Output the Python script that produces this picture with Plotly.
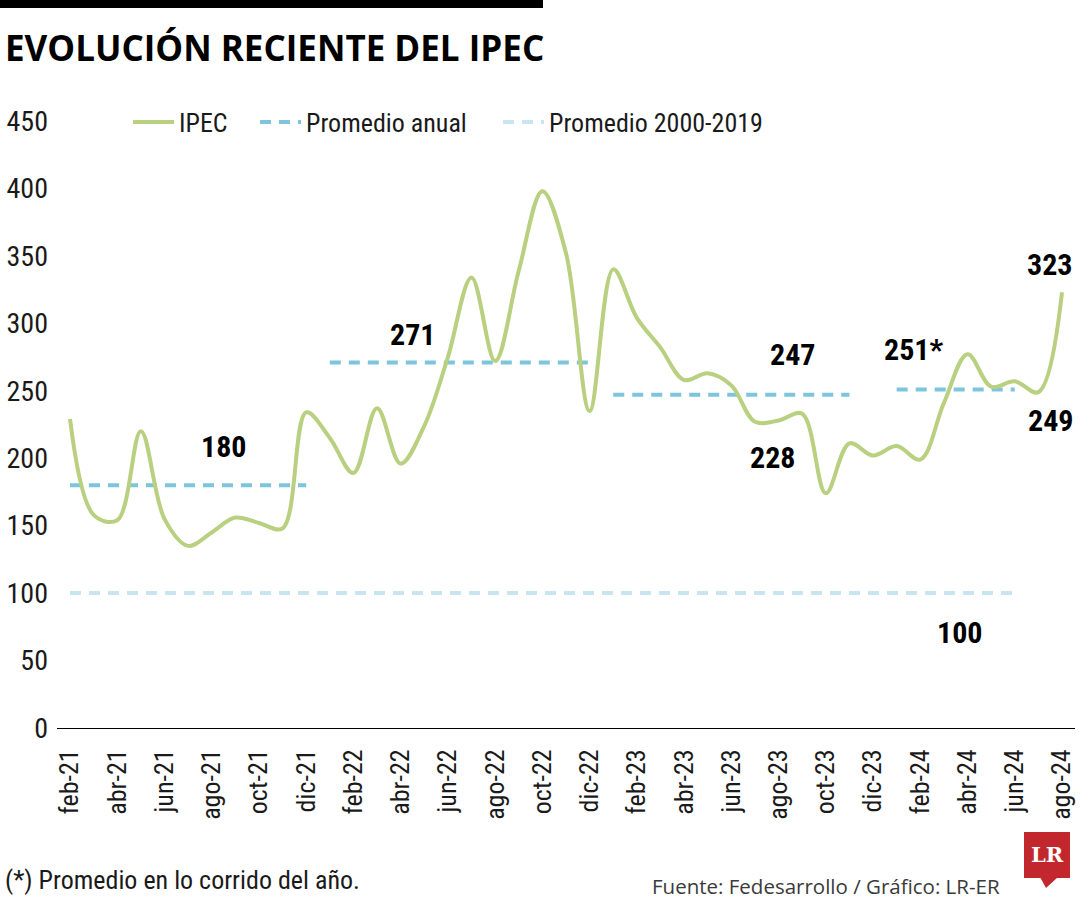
import plotly.graph_objects as go

# ---------------- data ----------------
months = ["feb-21", "mar-21", "abr-21", "may-21", "jun-21", "jul-21", "ago-21", "sep-21", "oct-21", "nov-21", "dic-21",
          "ene-22", "feb-22", "mar-22", "abr-22", "may-22", "jun-22", "jul-22", "ago-22", "sep-22", "oct-22", "nov-22", "dic-22",
          "ene-23", "feb-23", "mar-23", "abr-23", "may-23", "jun-23", "jul-23", "ago-23", "sep-23", "oct-23", "nov-23", "dic-23",
          "ene-24", "feb-24", "mar-24", "abr-24", "may-24", "jun-24", "jul-24", "ago-24"]
ipec = [229, 158, 154, 220, 155, 135, 145, 156, 152, 148, 234,
        215, 189, 237, 196, 224, 275, 334, 272, 339, 398, 352, 235,
        340, 304, 282, 258, 263, 254, 227, 228, 233, 174, 211, 202,
        209, 199, 241, 277, 253, 257, 249, 323]

avg_values = [180, 271, 247, 251]
avg_labels = ["180", "271", "247", "251*"]
avg_start = ["feb-21", "ene-22", "ene-23", "ene-24"]
avg_end = ["dic-21", "dic-22", "nov-23", "jun-24"]

hist_value = 100
hist_start, hist_end = "feb-21", "jun-24"

point_labels = [("ago-23", "228"), ("ago-24", "323"), ("jul-24", "249")]

# ---------------- styling ----------------
W, H = 1080, 900
ML, MR, MT, MB = 57, 5, 121, 172
PW, PH = W - ML - MR, H - MT - MB

NARROW = "Roboto Condensed, Liberation Sans Narrow, sans-serif"
GREEN = "#b8d07f"
BLUE = "#7cc5dd"
LIGHT = "#c8e6f1"
TXT = "#1a1a1a"


def px2x(px):
    return (px - ML) / PW


def px2y(py):
    return (H - MB - py) / PH


idx = {m: i for i, m in enumerate(months)}
xs = list(range(len(months)))

fig = go.Figure()

# Historical average 2000-2019
fig.add_trace(go.Scatter(
    x=[idx[hist_start], idx[hist_end]], y=[hist_value, hist_value],
    mode="lines", name="Promedio 2000-2019",
    line=dict(color=LIGHT, width=4, dash="11px,8px"),
    legend="legend3", hoverinfo="skip"))

# Annual averages (one trace, segments separated by gaps)
ax, ay = [], []
for v, s, e in zip(avg_values, avg_start, avg_end):
    ax += [idx[s], idx[e], None]
    ay += [v, v, None]
fig.add_trace(go.Scatter(
    x=ax, y=ay, mode="lines", name="Promedio anual",
    line=dict(color=BLUE, width=4, dash="11px,8px"),
    connectgaps=False, legend="legend2", hoverinfo="skip"))

# IPEC
fig.add_trace(go.Scatter(
    x=xs, y=ipec, mode="lines", name="IPEC",
    line=dict(color=GREEN, width=4, shape="spline", smoothing=1.0),
    legend="legend", customdata=months,
    hovertemplate="%{customdata}: %{y}<extra></extra>"))

annotations = []
lbl_font = dict(family=NARROW, size=30, color="#000000", weight="bold")

# average labels (x position in month index, pixel shift above line)
avg_label_x = [6.48, 14.52, 30.6, 35.73]
avg_label_shift = [39, 28, 40, 40]
for v, t, lx, sh in zip(avg_values, avg_labels, avg_label_x, avg_label_shift):
    annotations.append(dict(x=lx, y=v, xref="x", yref="y", text=t, showarrow=False,
                            yshift=sh, font=lbl_font, xanchor="center", yanchor="middle"))

# point labels
pt_label_x = [29.76, 41.49, 41.53]
pt_label_shift = [-37, 28, -28]
for (m, t), lx, sh in zip(point_labels, pt_label_x, pt_label_shift):
    annotations.append(dict(x=lx, y=ipec[idx[m]], xref="x", yref="y", text=t, showarrow=False,
                            yshift=sh, font=lbl_font, xanchor="center", yanchor="middle"))

# historical label
annotations.append(dict(x=37.68, y=hist_value, xref="x", yref="y", text=str(hist_value), showarrow=False,
                        yshift=-39, font=lbl_font, xanchor="center", yanchor="middle"))

# title
annotations.append(dict(x=px2x(3), y=px2y(47), xref="paper", yref="paper",
                        text="<b>EVOLUCIÓN RECIENTE DEL IPEC</b>", showarrow=False,
                        xanchor="left", yanchor="middle",
                        font=dict(family="Open Sans, Noto Sans, sans-serif", size=35, color="#000000")))
# footnote
annotations.append(dict(x=px2x(3), y=px2y(880), xref="paper", yref="paper",
                        text="(*) Promedio en lo corrido del año.", showarrow=False,
                        xanchor="left", yanchor="middle",
                        font=dict(family=NARROW, size=26, color=TXT)))
# source
annotations.append(dict(x=px2x(1002), y=px2y(886), xref="paper", yref="paper",
                        text="Fuente: Fedesarrollo / Gráfico: LR-ER", showarrow=False,
                        xanchor="right", yanchor="middle",
                        font=dict(family="Open Sans, Noto Sans, sans-serif", size=20.5, color="#3a3a3a")))
# logo text
annotations.append(dict(x=px2x(1047), y=px2y(854), xref="paper", yref="paper",
                        text="<b>LR</b>", showarrow=False, xanchor="center", yanchor="middle",
                        font=dict(family="DejaVu Serif, Liberation Serif, serif", size=21, color="#ffffff")))

shapes = [
    # top black bar
    dict(type="rect", xref="paper", yref="paper", x0=px2x(0), x1=px2x(543), y0=px2y(0), y1=px2y(8),
         fillcolor="#000000", line=dict(width=0), layer="above"),
    # logo box
    dict(type="rect", xref="paper", yref="paper", x0=px2x(1024), x1=px2x(1070), y0=px2y(832), y1=px2y(878),
         fillcolor="#c1272d", line=dict(width=0), layer="below"),
    dict(type="path", xref="paper", yref="paper",
         path=f"M {px2x(1040)},{px2y(877)} L {px2x(1046)},{px2y(888)} L {px2x(1058)},{px2y(877)} Z",
         fillcolor="#c1272d", line=dict(width=0), layer="below"),
]

legend_common = dict(orientation="h", yanchor="middle", xanchor="left", bgcolor="rgba(0,0,0,0)",
                     font=dict(family=NARROW, size=26, color=TXT), itemwidth=41)

fig.update_layout(
    width=W, height=H,
    margin=dict(l=ML, r=MR, t=MT, b=MB, pad=0),
    paper_bgcolor="#ffffff", plot_bgcolor="#ffffff",
    font=dict(family=NARROW, color=TXT),
    showlegend=True,
    legend=dict(x=px2x(128), y=px2y(122), **legend_common),
    legend2=dict(x=px2x(255), y=px2y(122), **legend_common),
    legend3=dict(x=px2x(498), y=px2y(122), **legend_common),
    annotations=annotations,
    shapes=shapes,
    xaxis=dict(range=[-0.55, 42.55], tickmode="array", tickvals=xs[::2], ticktext=months[::2],
               tickangle=-90, showgrid=False, zeroline=False, showline=True, linecolor="#000000",
               linewidth=1, ticks="", tickfont=dict(family=NARROW, size=26, color=TXT),
               ticklabelstandoff=10, fixedrange=True),
    yaxis=dict(range=[0, 450], tickmode="array", tickvals=list(range(0, 451, 50)),
               showgrid=False, zeroline=False, showline=False, ticks="",
               tickfont=dict(family=NARROW, size=28, color=TXT), ticklabelstandoff=8, fixedrange=True),
    hovermode="closest",
)

fig.write_html("out.html", config={"displayModeBar": False},
               post_script="document.body.style.margin='0';")
